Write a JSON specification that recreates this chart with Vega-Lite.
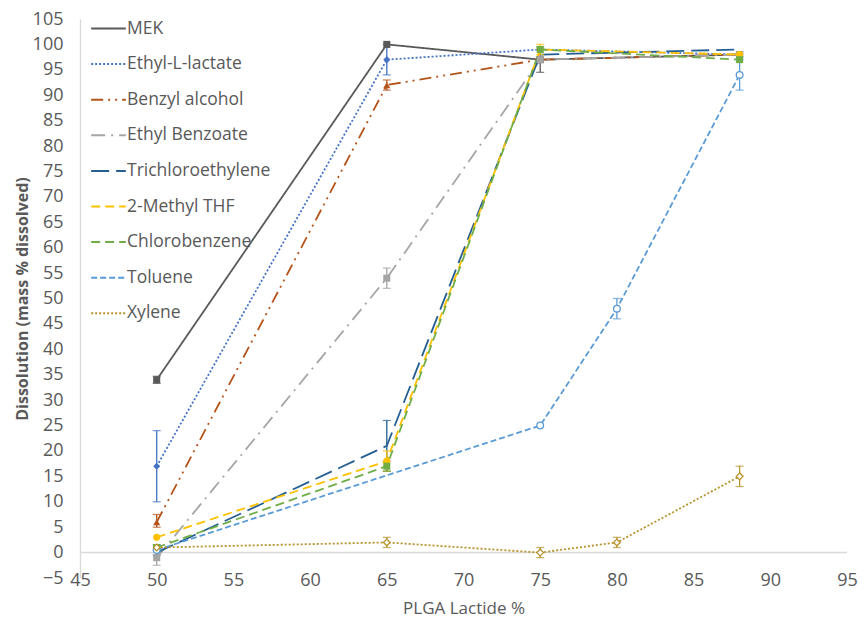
{
  "$schema": "https://vega.github.io/schema/vega-lite/v6.json",
  "width": 767,
  "height": 559,
  "autosize": {"type": "none"},
  "padding": {"left": 80, "top": 19, "right": 17, "bottom": 40},
  "background": "white",
  "config": {
    "view": {"stroke": null},
    "font": "Open Sans",
    "axis": {"labelOverlap": false, "grid": false, "ticks": false, "tickSize": 0, "labelFlush": false, "labelColor": "#595959", "titleColor": "#595959", "labelFontSize": 18, "labelFont": "Open Sans"}
  },
  "datasets": {
    "series": [
      {"s": "MEK", "x": 50, "y": 34}, {"s": "MEK", "x": 65, "y": 100}, {"s": "MEK", "x": 75, "y": 97}, {"s": "MEK", "x": 88, "y": 98},
      {"s": "Ethyl-L-lactate", "x": 50, "y": 17}, {"s": "Ethyl-L-lactate", "x": 65, "y": 97}, {"s": "Ethyl-L-lactate", "x": 75, "y": 99}, {"s": "Ethyl-L-lactate", "x": 88, "y": 98},
      {"s": "Benzyl alcohol", "x": 50, "y": 6}, {"s": "Benzyl alcohol", "x": 65, "y": 92}, {"s": "Benzyl alcohol", "x": 75, "y": 97}, {"s": "Benzyl alcohol", "x": 88, "y": 98},
      {"s": "Ethyl Benzoate", "x": 50, "y": -1}, {"s": "Ethyl Benzoate", "x": 65, "y": 54}, {"s": "Ethyl Benzoate", "x": 75, "y": 97}, {"s": "Ethyl Benzoate", "x": 88, "y": 98},
      {"s": "Trichloroethylene", "x": 50, "y": 0}, {"s": "Trichloroethylene", "x": 65, "y": 21}, {"s": "Trichloroethylene", "x": 75, "y": 98}, {"s": "Trichloroethylene", "x": 88, "y": 99},
      {"s": "2-Methyl THF", "x": 50, "y": 3}, {"s": "2-Methyl THF", "x": 65, "y": 18}, {"s": "2-Methyl THF", "x": 75, "y": 99}, {"s": "2-Methyl THF", "x": 88, "y": 98},
      {"s": "Chlorobenzene", "x": 50, "y": 1}, {"s": "Chlorobenzene", "x": 65, "y": 17}, {"s": "Chlorobenzene", "x": 75, "y": 99}, {"s": "Chlorobenzene", "x": 88, "y": 97},
      {"s": "Toluene", "x": 50, "y": 0.5}, {"s": "Toluene", "x": 75, "y": 25}, {"s": "Toluene", "x": 80, "y": 48}, {"s": "Toluene", "x": 88, "y": 94},
      {"s": "Xylene", "x": 50, "y": 1}, {"s": "Xylene", "x": 65, "y": 2}, {"s": "Xylene", "x": 75, "y": 0}, {"s": "Xylene", "x": 80, "y": 2}, {"s": "Xylene", "x": 88, "y": 15}
    ],
    "errors": [
      {"s": "MEK", "x": 50, "lo": 33.3, "hi": 34.7},
      {"s": "MEK", "x": 75, "lo": 94.5, "hi": 99.5},
      {"s": "Ethyl-L-lactate", "x": 50, "lo": 10, "hi": 24},
      {"s": "Ethyl-L-lactate", "x": 65, "lo": 94, "hi": 100},
      {"s": "Benzyl alcohol", "x": 50, "lo": 5, "hi": 7.5},
      {"s": "Benzyl alcohol", "x": 65, "lo": 91, "hi": 93},
      {"s": "Ethyl Benzoate", "x": 50, "lo": -2.5, "hi": 0.5},
      {"s": "Ethyl Benzoate", "x": 65, "lo": 52, "hi": 56},
      {"s": "Trichloroethylene", "x": 50, "lo": -0.5, "hi": 1.5},
      {"s": "Trichloroethylene", "x": 65, "lo": 16, "hi": 26},
      {"s": "2-Methyl THF", "x": 65, "lo": 16, "hi": 20},
      {"s": "2-Methyl THF", "x": 75, "lo": 98, "hi": 100},
      {"s": "Chlorobenzene", "x": 65, "lo": 16, "hi": 18},
      {"s": "Toluene", "x": 80, "lo": 46, "hi": 50},
      {"s": "Toluene", "x": 88, "lo": 91, "hi": 97},
      {"s": "Xylene", "x": 65, "lo": 1, "hi": 3},
      {"s": "Xylene", "x": 75, "lo": -1, "hi": 1},
      {"s": "Xylene", "x": 80, "lo": 1, "hi": 3},
      {"s": "Xylene", "x": 88, "lo": 13, "hi": 17}
    ],
    "zero": [{"x0": 45, "x1": 95, "y": 0}]
  },
  "layer": [
    {
      "data": {"name": "zero"},
      "mark": {"type": "rule", "color": "#D9D9D9", "strokeWidth": 1.5},
      "encoding": {
        "x": {
          "field": "x0", "type": "quantitative",
          "scale": {"domain": [45, 95], "nice": false, "zero": false},
          "axis": {
            "title": "PLGA Lactide %", "values": [45, 50, 55, 60, 65, 70, 75, 80, 85, 90, 95], "tickCount": 20,
            "domain": false, "labelPadding": 2, "labelBaseline": "middle",
            "labelFontSize": 18, "labelFont": "Open Sans", "labelOverlap": false,
            "titleFontSize": 17, "titleFontWeight": "normal", "titlePadding": 11, "titleFont": "Open Sans"
          }
        },
        "x2": {"field": "x1"},
        "y": {
          "field": "y", "type": "quantitative",
          "scale": {"domain": [-5, 105], "nice": false, "zero": false},
          "axis": {
            "title": "Dissolution (mass % dissolved)",
            "values": [-5, 0, 5, 10, 15, 20, 25, 30, 35, 40, 45, 50, 55, 60, 65, 70, 75, 80, 85, 90, 95, 100, 105], "tickCount": 30,
            "domainColor": "#D9D9D9", "domainWidth": 1.3, "labelPadding": 17,
            "labelFontSize": 18, "labelFont": "Open Sans", "labelOverlap": false,
            "titleFontSize": 16, "titleFontWeight": "bold", "titlePadding": 2, "titleFont": "Open Sans"
          }
        }
      }
    },
    {
      "data": {"name": "series"},
      "mark": {"type": "line", "strokeWidth": 1.8},
      "encoding": {
        "x": {"field": "x", "type": "quantitative"},
        "y": {"field": "y", "type": "quantitative"},
        "color": {
          "field": "s", "type": "nominal",
          "scale": {
            "domain": ["MEK", "Ethyl-L-lactate", "Benzyl alcohol", "Ethyl Benzoate", "Trichloroethylene", "2-Methyl THF", "Chlorobenzene", "Toluene", "Xylene"],
            "range": ["#595959", "#4472C4", "#B4541A", "#A5A5A5", "#255E91", "#FFC000", "#70AD47", "#5B9BD5", "#B8922A"]
          },
          "legend": {
            "title": null, "orient": "none", "legendX": 10, "legendY": -9,
            "symbolType": "stroke", "symbolSize": 1200, "symbolStrokeWidth": 2,
            "labelFontSize": 17.5, "labelColor": "#595959", "labelFont": "Open Sans",
            "rowPadding": 8.6, "labelOffset": 0, "padding": 0
          }
        },
        "strokeDash": {
          "field": "s", "type": "nominal",
          "scale": {
            "domain": ["MEK", "Ethyl-L-lactate", "Benzyl alcohol", "Ethyl Benzoate", "Trichloroethylene", "2-Methyl THF", "Chlorobenzene", "Toluene", "Xylene"],
            "range": [[1, 0], [2, 2], [12, 5, 2, 5, 2, 5], [14, 6, 2, 6], [18, 7], [9, 5], [9, 5], [6, 3], [2, 2]]
          },
          "legend": {
            "title": null, "orient": "none", "legendX": 10, "legendY": -9,
            "symbolType": "stroke", "symbolSize": 1200, "symbolStrokeWidth": 2,
            "labelFontSize": 17.5, "labelColor": "#595959", "labelFont": "Open Sans",
            "rowPadding": 8.6, "labelOffset": 0, "padding": 0
          }
        }
      }
    },
    {
      "data": {"name": "errors"},
      "mark": {"type": "rule", "strokeWidth": 1.3},
      "encoding": {
        "x": {"field": "x", "type": "quantitative"},
        "y": {"field": "lo", "type": "quantitative"},
        "y2": {"field": "hi"},
        "color": {"field": "s", "type": "nominal", "legend": null}
      }
    },
    {
      "data": {"name": "errors"},
      "mark": {"type": "tick", "orient": "horizontal", "size": 8, "thickness": 1.3},
      "encoding": {
        "x": {"field": "x", "type": "quantitative"},
        "y": {"field": "lo", "type": "quantitative"},
        "color": {"field": "s", "type": "nominal", "legend": null}
      }
    },
    {
      "data": {"name": "errors"},
      "mark": {"type": "tick", "orient": "horizontal", "size": 8, "thickness": 1.3},
      "encoding": {
        "x": {"field": "x", "type": "quantitative"},
        "y": {"field": "hi", "type": "quantitative"},
        "color": {"field": "s", "type": "nominal", "legend": null}
      }
    },
    {
      "data": {"name": "series"},
      "transform": [{"filter": {"field": "s", "oneOf": ["MEK", "Ethyl-L-lactate", "Benzyl alcohol", "Ethyl Benzoate", "2-Methyl THF", "Chlorobenzene"]}}],
      "mark": {"type": "point", "filled": true, "size": 50, "opacity": 1},
      "encoding": {
        "x": {"field": "x", "type": "quantitative"},
        "y": {"field": "y", "type": "quantitative"},
        "color": {"field": "s", "type": "nominal", "legend": null},
        "shape": {
          "field": "s", "type": "nominal", "legend": null,
          "scale": {
            "domain": ["MEK", "Ethyl-L-lactate", "Benzyl alcohol", "Ethyl Benzoate", "2-Methyl THF", "Chlorobenzene", "Toluene", "Xylene"],
            "range": ["square", "diamond", "triangle-up", "square", "circle", "square", "circle", "diamond"]
          }
        }
      }
    },
    {
      "data": {"name": "series"},
      "transform": [{"filter": {"field": "s", "oneOf": ["Toluene", "Xylene"]}}],
      "mark": {"type": "point", "filled": false, "fill": "white", "size": 45, "strokeWidth": 1.3, "opacity": 1},
      "encoding": {
        "x": {"field": "x", "type": "quantitative"},
        "y": {"field": "y", "type": "quantitative"},
        "color": {"field": "s", "type": "nominal", "legend": null},
        "shape": {"field": "s", "type": "nominal", "legend": null}
      }
    }
  ]
}
